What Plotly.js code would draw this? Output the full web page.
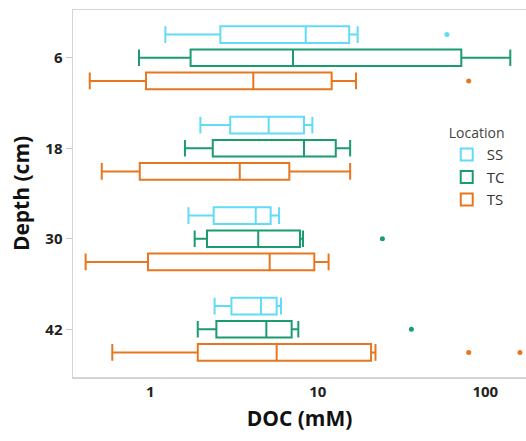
<!DOCTYPE html>
<html>
<head>
<meta charset="utf-8">
<script src="https://cdn.plot.ly/plotly-3.0.1.min.js"></script>
<style>html,body{margin:0;padding:0;background:#fff;}#chart{width:526px;height:441px;}</style>
</head>
<body>
<div id="chart"></div>
<script>
// Depth categories (cm)
const depths = ['6', '18', '30', '42'];
const depthLabels = ['6', '18', '30', '42'];
const xTicks = [1, 10, 100];

// Box statistics per location, in depth order (DOC, mM)
const SS_lower  = [1.23, 1.99, 1.69, 2.42];
const SS_q1     = [2.62, 3.00, 2.39, 3.05];
const SS_median = [8.47, 5.09, 4.26, 4.58];
const SS_q3     = [15.4, 8.27, 5.23, 5.68];
const SS_upper  = [17.3, 9.28, 5.87, 6.03];
const SS_out    = [[59], [null], [null], [null]];

const TC_lower  = [0.856, 1.61, 1.84, 1.92];
const TC_q1     = [1.74, 2.36, 2.18, 2.48];
const TC_median = [7.11, 8.27, 4.41, 4.93];
const TC_q3     = [71.9, 12.8, 7.83, 6.98];
const TC_upper  = [141, 15.6, 8.16, 7.65];
const TC_out    = [[null], [null], [24.3], [36.2]];

const TS_lower  = [0.435, 0.513, 0.411, 0.593];
const TS_q1     = [0.943, 0.865, 0.969, 1.92];
const TS_median = [4.12, 3.42, 5.16, 5.68];
const TS_q3     = [12.1, 6.76, 9.53, 20.8];
const TS_upper  = [16.9, 15.6, 11.6, 22.1];
const TS_out    = [[79.6], [null], [null], [79.6, 161]];

const locations = ['SS', 'TC', 'TS'];
const colors = {SS: '#62dcf6', TC: '#1b9b70', TS: '#e8761e'};

const stats = {
  SS: [SS_lower, SS_q1, SS_median, SS_q3, SS_upper, SS_out],
  TC: [TC_lower, TC_q1, TC_median, TC_q3, TC_upper, TC_out],
  TS: [TS_lower, TS_q1, TS_median, TS_q3, TS_upper, TS_out]
};

const traces = locations.map(loc => {
  const s = stats[loc];
  return {
    type: 'box',
    name: loc,
    orientation: 'h',
    y: depths,
    x: s[5],
    lowerfence: s[0],
    q1: s[1],
    median: s[2],
    q3: s[3],
    upperfence: s[4],
    boxpoints: 'outliers',
    whiskerwidth: 1,
    fillcolor: 'rgba(255,255,255,0)',
    line: {color: colors[loc], width: 2},
    marker: {color: colors[loc], size: 5, line: {width: 0}, outliercolor: colors[loc]},
    hoverinfo: 'x'
  };
});

const layout = {
  width: 526,
  height: 441,
  margin: {l: 73, r: 0, t: 10, b: 64},
  paper_bgcolor: '#ffffff',
  plot_bgcolor: '#ffffff',
  font: {family: '"Open Sans", "DejaVu Sans", sans-serif', color: '#222'},
  boxmode: 'group',
  boxgap: 0.23,
  boxgroupgap: 0.28,
  showlegend: true,
  legend: {
    x: 0.825, y: 0.70, xanchor: 'left', yanchor: 'top',
    title: {text: 'Location', font: {size: 14, color: '#444'}},
    font: {size: 15, color: '#333'},
    bgcolor: 'rgba(0,0,0,0)',
    tracegroupgap: 0,
    itemwidth: 30
  },
  xaxis: {
    type: 'log',
    range: [-0.4615, 2.243],
    tickvals: xTicks,
    ticktext: xTicks.map(String),
    ticks: '',
    showgrid: false,
    zeroline: false,
    showline: true,
    mirror: true,
    linecolor: '#d4d4d4',
    linewidth: 1.5,
    tickfont: {size: 15, weight: 'bold', color: '#222'},
    title: {text: 'DOC (mM)', font: {size: 21, weight: 'bold', color: '#111'}, standoff: 12}
  },
  yaxis: {
    type: 'category',
    categoryorder: 'array',
    categoryarray: depths,
    tickvals: depths,
    ticktext: depthLabels,
    autorange: 'reversed',
    ticks: 'outside',
    ticklen: 6,
    tickcolor: '#c8c8c8',
    showgrid: false,
    zeroline: false,
    showline: true,
    linecolor: '#d4d4d4',
    linewidth: 1.5,
    tickfont: {size: 15, weight: 'bold', color: '#222'},
    title: {text: 'Depth (cm)', font: {size: 21, weight: 'bold', color: '#111'}, standoff: 10}
  }
};

Plotly.newPlot('chart', traces, layout, {displayModeBar: false, staticPlot: true});
</script>
</body>
</html>
